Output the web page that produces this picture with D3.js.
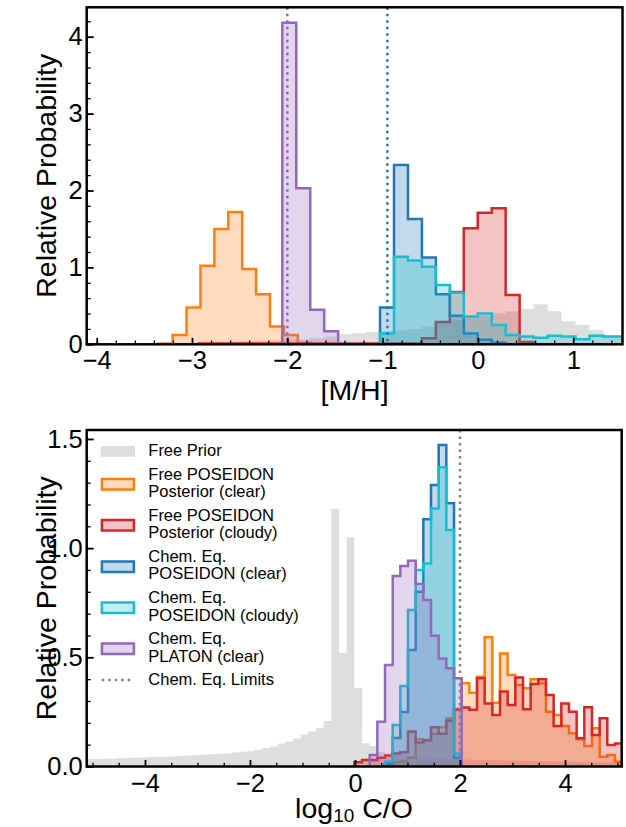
<!DOCTYPE html>
<html><head><meta charset="utf-8">
<script src="https://cdn.jsdelivr.net/npm/d3@7"></script>
<style>
body{margin:0;background:#fff}
svg{display:block}
text{font-family:"Liberation Sans",Arial,Helvetica,sans-serif;fill:#000}
</style>
</head><body>
<svg id="c" width="626" height="827"></svg>
<script>
// ---------------- DATA ----------------
// Top panel: [M/H]
const mhBinWidth = 0.1465;
const mhPriorStart = -3.957;
const mhPrior = [0.003,0.005,0.008,0.010,0.013,0.017,0.020,0.025,0.030,0.034,
                 0.040,0.045,0.050,0.055,0.065,0.080,0.100,0.130,0.145,0.160,
                 0.170,0.180,0.200,0.230,0.280,0.310,0.340,0.370,0.400,0.430,
                 0.460,0.520,0.430,0.300,0.250,0.190,0.120,0.100,0.100];
const mhOrangeStart = -3.349, mhOrangeWidth = 0.1459;
const mhOrange = [0.01,0.12,0.48,1.02,1.50,1.72,0.98,0.65,0.23,0.12,0.02];
const mhRedStart = -2.932;
const mhRed = [0.01,0.01,0.01,0.01,0.01,0.01,0.01,0.01,0.01,0.01,0.01,0.01,0.01,0.01,0.01,0.01,
               0.08,0.29,0.68,1.51,1.71,1.77,0.64,0.03];
const mhBlueStart = -1.027;
const mhBlue = [0.48,2.33,1.63,1.13,0.65,0.37,0.14,0.06,0.02];
const mhCyanStart = -1.027;
const mhCyan = [0.14,1.14,1.09,1.01,0.77,0.67,0.36,0.40,0.25,0.12,0.10,0.086,0.11,0.10,0.065,0.11,0.10,0.10];
const mhPurpleStart = -2.0525;
const mhPurple = [4.18,2.03,0.45,0.17,0.01,0.005];
const mhLimitPurple = -2.0, mhLimitBlue = -0.95;
const mhTicks = [-4,-3,-2,-1,0,1];
const mhTickLabels = ["\u22124","\u22123","\u22122","\u22121","0","1"];
const mhYTicks = [0,1,2,3,4];
const mhYTickLabels = ["0","1","2","3","4"];

// Bottom panel: log10 C/O  (common bin grid)
const coBinWidth = 0.146;
const coPriorStart = -5.122;
const coPrior = [0.033,0.034,0.035,0.036,0.038,0.039,0.040,0.041,0.043,0.044,
                 0.045,0.046,0.048,0.050,0.052,0.054,0.056,0.058,0.061,0.064,
                 0.067,0.070,0.077,0.085,0.092,0.105,0.114,0.128,0.145,0.160,
                 0.176,0.208,1.180,0.520,1.050,0.360,0.106,0.094,0.068,0.060,
                 0.055,0.050,0.047,0.045,0.042,0.040,0.038,0.036,0.034,0.032,
                 0.031,0.030,0.030,0.029,0.028,0.027,0.027,0.026,0.025,0.024,
                 0.024,0.023,0.022,0.022,0.021,0.020,0.020,0.019,0.019,0.018];
const coOrangeStart = 0.572;
const coOrange = [0.01,0.02,0.025,0.04,0.125,0.12,0.15,0.18,0.22,0.265,
                  0.381,0.338,0.411,0.592,0.292,0.518,0.419,0.373,0.358,0.399,
                  0.381,0.251,0.236,0.185,0.152,0.125,0.094,0.175,0.045,0.053,0.022];
const coRedStart = -0.012;
const coRed = [0.02,0.03,0.03,0.04,0.05,0.06,0.065,0.16,0.11,0.12,0.18,0.15,0.21,0.26,
               0.27,0.26,0.404,0.289,0.236,0.343,0.282,0.408,0.262,0.378,0.399,
               0.327,0.185,0.289,0.251,0.129,0.271,0.144,0.221,0.098,0.105];
const coBlueStart = 0.572;
const coBlue = [0.01,0.13,0.25,0.533,0.80,1.132,1.289,1.472,1.205,0.04];
const coCyanStart = 0.572;
const coCyan = [0.022,0.19,0.369,0.717,0.90,0.93,1.182,1.37,1.083,0.06];
const coPurpleStart = 0.280;
const coPurple = [0.053,0.205,0.465,0.872,0.918,0.942,0.836,0.762,0.599,0.495,0.45,0.404];
const coLimit = 2.0;
const coTicks = [-4,-2,0,2,4];
const coTickLabels = ["\u22124","\u22122","0","2","4"];
const coYTicks = [0,0.5,1.0,1.5];
const coYTickLabels = ["0.0","0.5","1.0","1.5"];

const legendLabels = [
  ["Free Prior"],
  ["Free POSEIDON","Posterior (clear)"],
  ["Free POSEIDON","Posterior (cloudy)"],
  ["Chem. Eq.","POSEIDON (clear)"],
  ["Chem. Eq.","POSEIDON (cloudy)"],
  ["Chem. Eq.","PLATON (clear)"],
  ["Chem. Eq. Limits"]
];

// ---------------- STYLE ----------------
const C = {prior:"#808080", orange:"#ff7f0e", red:"#d62728", blue:"#1f77b4", cyan:"#17becf", purple:"#9467bd", limit:"#808080"};
const FILL_A = 0.27, PRIOR_A = 0.26, LW = 2.5;
const TICK_FS = 25.5, LABEL_FS = 28.5, LEG_FS = 16.5;

const svg = d3.select("#c");
const defs = svg.append("defs");

function range(a, step, b){ const out=[]; for(let v=a; v<=b+1e-9; v+=step) out.push(+v.toFixed(6)); return out; }

function hist(g, x, y, start, width, vals, color, fillOp, stroke){
  const pts = [[start,0]];
  vals.forEach((v,i)=>{ const a=start+i*width; pts.push([a,v],[a+width,v]); });
  pts.push([start+vals.length*width,0]);
  const line = d3.line().x(d=>x(d[0])).y(d=>y(d[1]));
  g.append("path").attr("d", line(pts)+"Z").attr("fill", color).attr("fill-opacity", fillOp).attr("stroke","none");
  if(stroke) g.append("path").attr("d", line(pts)).attr("fill","none").attr("stroke",color)
      .attr("stroke-width",LW).attr("stroke-linejoin","miter");
}

function panel(opts){
  const {L,R,T,B,xdom,ydom,id} = opts;
  const x = d3.scaleLinear().domain(xdom).range([L,R]);
  const y = d3.scaleLinear().domain(ydom).range([B,T]);
  defs.append("clipPath").attr("id",id).append("rect").attr("x",L).attr("y",T).attr("width",R-L).attr("height",B-T);
  const g = svg.append("g").attr("clip-path",`url(#${id})`);
  return {x,y,g};
}

function axes(p, o){
  const {x,y} = p;
  const xa = d3.axisBottom(x).tickValues(o.xt).tickFormat((d,i)=>o.xl[i]).tickSize(-6.5).tickPadding(7);
  const gx = svg.append("g").attr("transform",`translate(0,${o.B})`).call(xa);
  gx.select(".domain").remove();
  gx.selectAll(".tick line").attr("stroke","#000").attr("stroke-width",1.8);
  gx.selectAll(".tick text").attr("font-size",TICK_FS).attr("font-family",'"Liberation Sans",Arial,sans-serif');
  const xm = d3.axisBottom(x).tickValues(o.xminor.filter(v=>!o.xt.includes(v))).tickFormat("").tickSize(-3.8);
  const gxm = svg.append("g").attr("transform",`translate(0,${o.B})`).call(xm);
  gxm.select(".domain").remove();
  gxm.selectAll(".tick line").attr("stroke","#000").attr("stroke-width",1.3);
  const ya = d3.axisLeft(y).tickValues(o.yt).tickFormat((d,i)=>o.yl[i]).tickSize(-7).tickPadding(4);
  const gy = svg.append("g").attr("transform",`translate(${o.L},0)`).call(ya);
  gy.select(".domain").remove();
  gy.selectAll(".tick line").attr("stroke","#000").attr("stroke-width",1.8);
  gy.selectAll(".tick text").attr("font-size",TICK_FS).attr("font-family",'"Liberation Sans",Arial,sans-serif');
  const ym = d3.axisLeft(y).tickValues(o.yminor.filter(v=>!o.yt.some(t=>Math.abs(t-v)<1e-6))).tickFormat("").tickSize(-4);
  const gym = svg.append("g").attr("transform",`translate(${o.L},0)`).call(ym);
  gym.select(".domain").remove();
  gym.selectAll(".tick line").attr("stroke","#000").attr("stroke-width",1.3);
  svg.append("rect").attr("x",o.L).attr("y",o.T).attr("width",o.R-o.L).attr("height",o.B-o.T)
    .attr("fill","none").attr("stroke","#000").attr("stroke-width",2.5);
}

function vline(p, v, color, T, B){
  p.g.append("line").attr("x1",p.x(v)).attr("x2",p.x(v)).attr("y1",T).attr("y2",B)
    .attr("stroke",color).attr("stroke-width",2.5).attr("stroke-dasharray","2.5,4");
}

// ---------------- TOP PANEL ----------------
const TP = {L:86.7,R:622.5,T:7.3,B:344.3};
const pt = panel({...TP, xdom:[-4.105,1.517], ydom:[0,4.382], id:"clipTop"});
hist(pt.g, pt.x, pt.y, mhPriorStart, mhBinWidth, mhPrior, C.prior, PRIOR_A, false);
hist(pt.g, pt.x, pt.y, mhOrangeStart, mhOrangeWidth, mhOrange, C.orange, FILL_A, true);
hist(pt.g, pt.x, pt.y, mhRedStart, mhBinWidth, mhRed, C.red, FILL_A, true);
hist(pt.g, pt.x, pt.y, mhBlueStart, mhBinWidth, mhBlue, C.blue, FILL_A, true);
hist(pt.g, pt.x, pt.y, mhCyanStart, mhBinWidth, mhCyan, C.cyan, FILL_A, true);
hist(pt.g, pt.x, pt.y, mhPurpleStart, mhBinWidth, mhPurple, C.purple, FILL_A, true);
vline(pt, mhLimitPurple, C.purple, TP.T, TP.B);
vline(pt, mhLimitBlue, C.blue, TP.T, TP.B);
axes(pt, {...TP, xt:mhTicks, xl:mhTickLabels, xminor:range(-4,0.2,1.4), yt:mhYTicks, yl:mhYTickLabels, yminor:range(0,0.2,4.2)});
svg.append("text").attr("x",354.6).attr("y",400).attr("text-anchor","middle").attr("font-size",LABEL_FS).text("[M/H]");
svg.append("text").attr("transform",`translate(56,${(TP.T+TP.B)/2}) rotate(-90)`).attr("text-anchor","middle")
  .attr("font-size",LABEL_FS).text("Relative Probability");

// ---------------- BOTTOM PANEL ----------------
const BP = {L:86.7,R:621.7,T:430,B:766.5};
const pb = panel({...BP, xdom:[-5.11,5.08], ydom:[0,1.541], id:"clipBot"});
hist(pb.g, pb.x, pb.y, coPriorStart, coBinWidth, coPrior, C.prior, PRIOR_A, false);
hist(pb.g, pb.x, pb.y, coOrangeStart, coBinWidth, coOrange, C.orange, FILL_A, true);
hist(pb.g, pb.x, pb.y, coRedStart, coBinWidth, coRed, C.red, FILL_A, true);
hist(pb.g, pb.x, pb.y, coBlueStart, coBinWidth, coBlue, C.blue, FILL_A, true);
hist(pb.g, pb.x, pb.y, coCyanStart, coBinWidth, coCyan, C.cyan, FILL_A, true);
hist(pb.g, pb.x, pb.y, coPurpleStart, coBinWidth, coPurple, C.purple, FILL_A, true);
vline(pb, coLimit, C.limit, BP.T, BP.B);
axes(pb, {...BP, xt:coTicks, xl:coTickLabels, xminor:range(-5,0.5,5), yt:coYTicks, yl:coYTickLabels, yminor:range(0,0.1,1.5)});
const xl = svg.append("text").attr("x",354).attr("y",818).attr("text-anchor","middle").attr("font-size",LABEL_FS);
xl.append("tspan").text("log");
xl.append("tspan").attr("font-size",19).attr("dy",4).text("10");
xl.append("tspan").attr("dy",-4).text(" C/O");
svg.append("text").attr("transform",`translate(56,${(BP.T+BP.B)/2}) rotate(-90)`).attr("text-anchor","middle")
  .attr("font-size",LABEL_FS).text("Relative Probability");

// ---------------- LEGEND ----------------
const legColors = [C.prior, C.orange, C.red, C.blue, C.cyan, C.purple, C.limit];
const legPatchY = [446, 479, 520, 561.5, 602.5, 643.5];
const legTextY = [[456],[480,497.3],[520.7,538.3],[561.7,579],[603.3,620.7],[644,661.7],[685]];
const lg = svg.append("g");
legendLabels.forEach((lines,i)=>{
  if(i===0){
    lg.append("rect").attr("x",100.7).attr("y",legPatchY[i]).attr("width",34.3).attr("height",10.7)
      .attr("fill",legColors[i]).attr("fill-opacity",PRIOR_A);
  } else if(i<6){
    lg.append("rect").attr("x",101.9).attr("y",legPatchY[i]).attr("width",32).attr("height",10.5)
      .attr("fill",legColors[i]).attr("fill-opacity",FILL_A).attr("stroke",legColors[i]).attr("stroke-width",LW);
  } else {
    lg.append("line").attr("x1",101.7).attr("x2",134).attr("y1",680).attr("y2",680)
      .attr("stroke",legColors[i]).attr("stroke-width",2.5).attr("stroke-dasharray","2.5,4");
  }
  lines.forEach((t,k)=>{
    lg.append("text").attr("x",148.3).attr("y",legTextY[i][k]).attr("font-size",LEG_FS).text(t);
  });
});
</script>
</body></html>
